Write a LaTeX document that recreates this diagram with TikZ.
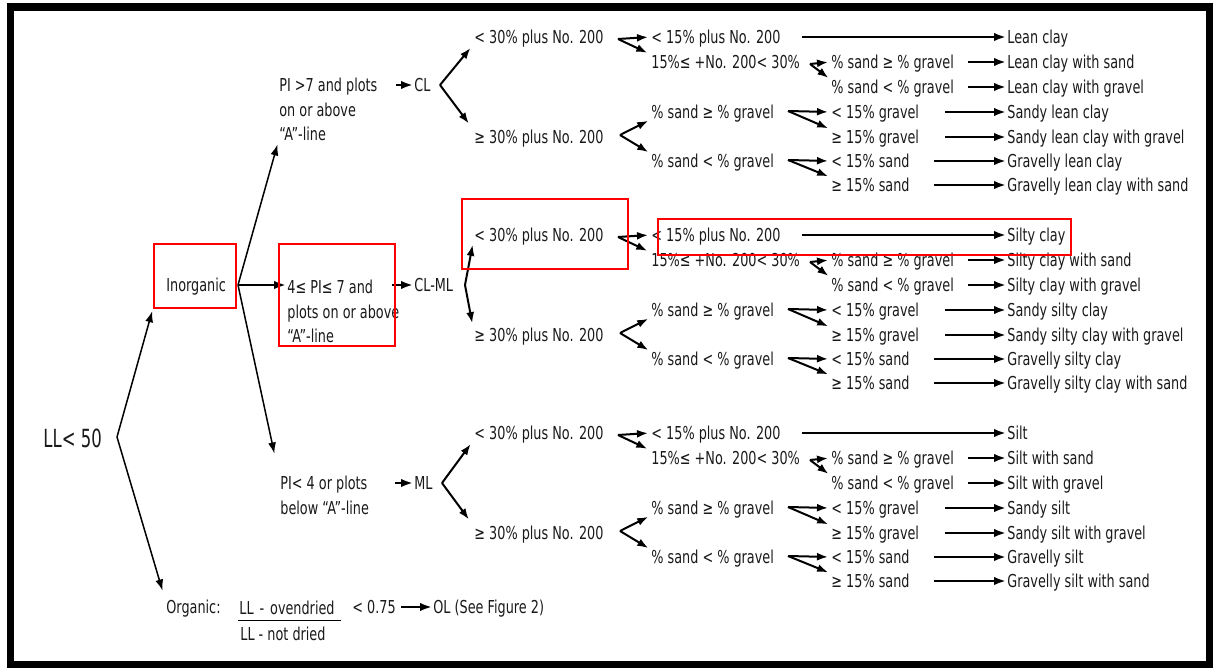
\documentclass[tikz,border=0pt]{standalone}
\usepackage{fontspec}
\newfontfamily\chartfont{DejaVu Sans}[FakeStretch=0.72]
\newfontfamily\chartbigfont{DejaVu Sans}[FakeStretch=0.66]
\usetikzlibrary{positioning,arrows.meta}

\begin{document}
\begin{tikzpicture}[
            x=1pt,y=-1pt,thick,
            every node/.style={inner sep=1pt, text=black!90, font=\chartfont\fontsize{17.8}{24.5}\selectfont},
            textnode/.style={anchor=west, text height=13pt, text depth=0pt},
            blocknode/.style={anchor=north west, align=left},
            markbox/.style={rectangle, draw=red, line width=2.6pt},
            branch/.style={-{Latex[length=11pt,width=8pt]}, line width=2pt, shorten >=#1},
            branch/.default=2pt,
            lead/.style={-{Latex[length=12pt,width=8.5pt]}, line width=2.6pt, shorten <=#1},
            lead/.default=14pt,
            ]
            \useasboundingbox (0,0) rectangle (1216,668);
            \draw[line width=7.5pt] (10.5,7) rectangle (1209.5,665);
            
            % Nodes
            \node[font=\chartbigfont\fontsize{25}{30}\selectfont, anchor=west, text height=18pt, text depth=0pt] (ll) at (42,438) {LL< 50};
            \coordinate (llsplit) at (117,437);
            \node[markbox, minimum width=82pt, minimum height=64pt] (inorgbox) at (195,276) {};
            \node[textnode] (inorganic) at (165,285) {Inorganic};
            \coordinate (inorgsplit) at (238,285);
            
            \node[blocknode] (pitop) at (278,77) {PI >7 and plots\\on or above\\“A”-line};
            \node[blocknode] (pimid) at (286,279) {4≤ PI≤ 7 and\\plots on or above\\“A”-line};
            \node[blocknode] (pibot) at (279,475) {PI< 4 or plots\\below “A”-line};
            \node[textnode] (cl) at (413,85) {CL};
            \node[textnode] (clml) at (413,285) {CL-ML};
            \node[textnode] (ml) at (413,483) {ML};
            \coordinate (clsplit) at (440,85);
            \coordinate (clmlsplit) at (465,285);
            \coordinate (mlsplit) at (442,483);
            
            \node[textnode] (organic) at (165,607) {Organic:};
            \node[textnode, text depth=5pt, text width=100pt] (ovendried) at (238,610) {LL - ovendried};
            \node[textnode, anchor=north west, below right=6pt and 1pt of ovendried.south west] (notdried) {LL - not dried};
            \node[textnode] (ratio) at (351,607) {< 0.75};
            \node[textnode] (ol) at (432,607) {OL (See Figure 2)};
            
            \foreach \grp/\dy/\Kind/\kind in {a/0/Lean clay/lean clay, b/198/Silty clay/silty clay, c/396/Silt/silt} {
                \node[textnode] (few\grp) at (473,37+\dy) {< 30\% plus No. 200};
                \node[textnode] (many\grp) at (473,137+\dy) {≥ 30\% plus No. 200};
                \node[textnode] (fine\grp) at (650,37+\dy) {< 15\% plus No. 200};
                \node[textnode] (mixed\grp) at (650,62+\dy) {15\%≤ +No. 200< 30\%};
                \node[textnode] (msand\grp) at (830,62+\dy) {\% sand ≥ \% gravel};
                \node[textnode] (mgravel\grp) at (830,87+\dy) {\% sand < \% gravel};
                \node[textnode] (sand\grp) at (650,112+\dy) {\% sand ≥ \% gravel};
                \node[textnode] (gravel\grp) at (650,161+\dy) {\% sand < \% gravel};
                \node[textnode] (lowgravel\grp) at (830,112+\dy) {< 15\% gravel};
                \node[textnode] (highgravel\grp) at (830,137+\dy) {≥ 15\% gravel};
                \node[textnode] (lowsand\grp) at (830,161+\dy) {< 15\% sand};
                \node[textnode] (highsand\grp) at (830,185+\dy) {≥ 15\% sand};
                
                \node[textnode] (plain\grp) at (1006,37+\dy) {\Kind};
                \node[textnode] (withsand\grp) at (1006,62+\dy) {\Kind\ with sand};
                \node[textnode] (withgravel\grp) at (1006,87+\dy) {\Kind\ with gravel};
                \node[textnode] (sandy\grp) at (1006,112+\dy) {Sandy \kind};
                \node[textnode] (sandygravel\grp) at (1006,137+\dy) {Sandy \kind\ with gravel};
                \node[textnode] (gravelly\grp) at (1006,161+\dy) {Gravelly \kind};
                \node[textnode] (gravellysand\grp) at (1006,185+\dy) {Gravelly \kind\ with sand};
                
                \coordinate (fewsplit\grp) at (618,39+\dy);
                \coordinate (mixedsplit\grp) at (810,64+\dy);
                \coordinate (manysplit\grp) at (620,135+\dy);
                \coordinate (sandsplit\grp) at (788,111+\dy);
                \coordinate (gravelsplit\grp) at (788,160+\dy);
                
                % Lines
                \draw[branch] (fewsplit\grp) -- (fine\grp.west);
                \draw[branch=3pt] (fewsplit\grp) -- (mixed\grp.north west);
                \draw[branch] (mixedsplit\grp) -- (msand\grp.west);
                \draw[branch] (mixedsplit\grp) -- (mgravel\grp.north west);
                \draw[branch] (manysplit\grp) -- (sand\grp.south west);
                \draw[branch] (manysplit\grp) -- (gravel\grp.north west);
                \draw[branch] (sandsplit\grp) -- (lowgravel\grp.west);
                \draw[branch] (sandsplit\grp) -- (highgravel\grp.north west);
                \draw[branch] (gravelsplit\grp) -- (lowsand\grp.west);
                \draw[branch] (gravelsplit\grp) -- (highsand\grp.north west);
                \draw[lead=20pt] (fine\grp) -- (plain\grp);
                \draw[lead=13pt] (msand\grp) -- (withsand\grp);
                \draw[lead=13pt] (mgravel\grp) -- (withgravel\grp);
                \draw[lead=25pt] (lowgravel\grp) -- (sandy\grp);
                \draw[lead=25pt] (highgravel\grp) -- (sandygravel\grp);
                \draw[lead=23pt] (lowsand\grp) -- (gravelly\grp);
                \draw[lead=23pt] (highsand\grp) -- (gravellysand\grp);
            }
            
            % Lines
            \draw[branch, line width=1.5pt] (llsplit) -- (inorgbox.south west);
            \draw[branch=9pt, line width=1.5pt] (llsplit) -- (organic.north west);
            \draw[branch, line width=1.5pt] (inorgsplit) -- (pitop.south west);
            \draw[lead=0pt] (inorgsplit) -- (inorgsplit -| pimid.west);
            \draw[branch=22pt, line width=1.5pt] (inorgsplit) -- (pibot.north west);
            \draw[lead=0pt] ([xshift=-17pt]cl.west) -- (cl.west);
            \draw[lead=0pt] ([xshift=-21pt]clml.west) -- (clml.west);
            \draw[lead=0pt] ([xshift=-18pt]ml.west) -- (ml.west);
            \draw[branch=4pt] (clsplit) -- (fewa.south west);
            \draw[branch=7pt] (clsplit) -- (manya.north west);
            \draw[branch] (clmlsplit) -- (fewb.south west);
            \draw[branch=4pt] (clmlsplit) -- (manyb.north west);
            \draw[branch=4pt] (mlsplit) -- (fewc.south west);
            \draw[branch=7pt] (mlsplit) -- (manyc.north west);
            \draw[line width=1.8pt] (ovendried.south west) -- (ovendried.south east);
            \draw[lead=4pt] (ratio) -- (ol);
            
            % Marks
            \draw[markbox] (279,244) rectangle (395,346);
            \draw[markbox] (462,199) rectangle (628,269);
            \draw[markbox] (658,219) rectangle (1071,255);
        \end{tikzpicture}
\end{document}
